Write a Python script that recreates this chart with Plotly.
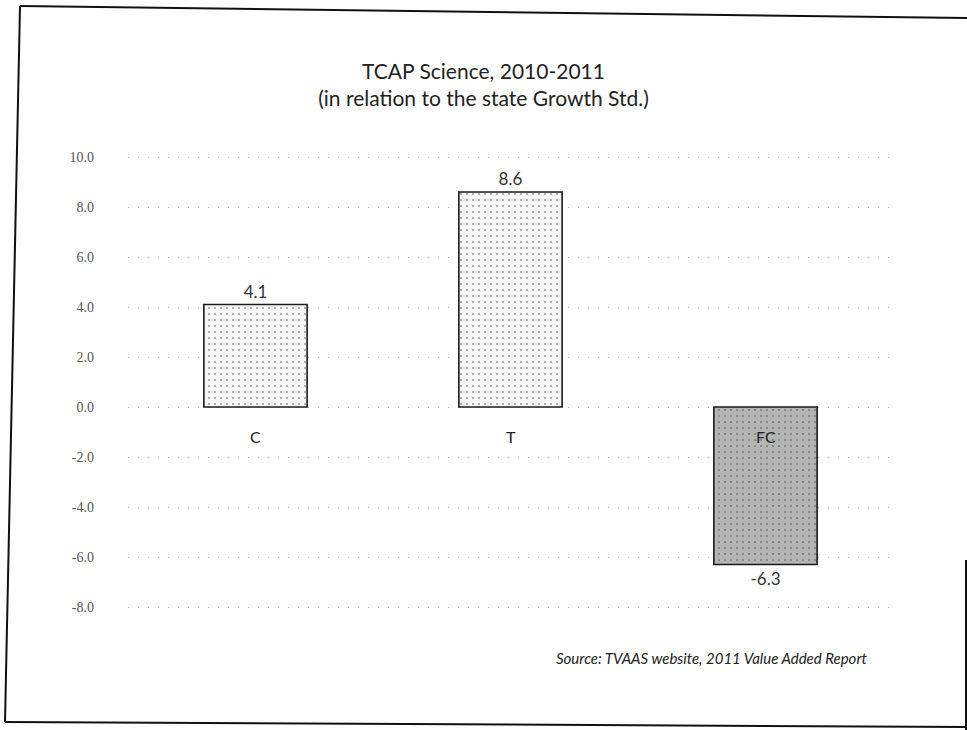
import plotly.graph_objects as go

categories = ["C", "T", "FC"]
values = [4.1, 8.6, -6.3]
tick_values = [10, 8, 6, 4, 2, 0, -2, -4, -6, -8]
tick_labels = ["10.0", "8.0", "6.0", "4.0", "2.0", "0.0", "-2.0", "-4.0", "-6.0", "-8.0"]
fill_colors = ["#f6f6f6", "#f6f6f6", "#b4b4b4"]
pattern_fg = ["#ababab", "#ababab", "#555555"]

W, H = 967, 730
L, R, T, B = 128, 74, 155, 121
pw, ph = W - L - R, H - T - B

def px(x):
    return (x - L) / pw

def py(y):
    return (H - B - y) / ph

fig = go.Figure()
fig.add_trace(go.Bar(
    x=categories, y=values, width=0.405,
    marker=dict(color=fill_colors, line=dict(color="#1a1a1a", width=1.6),
                pattern=dict(shape=".", fgcolor=pattern_fg, bgcolor=fill_colors,
                             size=6, solidity=0.1, fillmode="overlay")),
    text=[f"{v:.1f}" for v in values], textposition="outside",
    textfont=dict(family="Lato", size=17, color="#333"),
    cliponaxis=False, showlegend=False,
))

for c in categories:
    fig.add_annotation(x=c, y=0, yanchor="top", yshift=-18, showarrow=False,
                       text=c, font=dict(family="Lato", size=16, color="#222"))

fig.add_annotation(xref="paper", yref="paper", x=px(870), y=py(658), xanchor="right",
                   yanchor="middle", showarrow=False,
                   text="<i>Source: TVAAS website, 2011 Value Added Report</i>",
                   font=dict(family="Lato", size=15, color="#222"))

# scanned page frame
frame = [((20, 6), (967, 18)), ((20, 6), (5, 722)), ((5, 722), (967, 727)), ((966, 560), (966, 730))]
for (x0, y0), (x1, y1) in frame:
    fig.add_shape(type="line", xref="paper", yref="paper",
                  x0=px(x0), y0=py(y0), x1=px(x1), y1=py(y1),
                  line=dict(color="#111", width=2))

fig.update_layout(
    width=W, height=H,
    margin=dict(l=L, r=R, t=T, b=B),
    paper_bgcolor="white", plot_bgcolor="white",
    title=dict(text="TCAP Science, 2010-2011<br>(in relation to the state Growth Std.)",
               x=0.5, xref="container", y=1 - 79 / H, yref="container", yanchor="top",
               font=dict(family="Lato", size=21, color="#222")),
    xaxis=dict(showticklabels=False, showgrid=False, zeroline=False, showline=False,
               ticks=""),
    yaxis=dict(range=[-8.08, 10.08], tickvals=tick_values, ticktext=tick_labels,
               tickfont=dict(family="Liberation Serif", size=14, color="#555"),
               ticklabelstandoff=33, showgrid=True, gridcolor="#b5b5b5", gridwidth=1,
               griddash="1px,9px", zeroline=False, showline=False, ticks=""),
)

fig.write_html("out.html", config={"displayModeBar": False},
               post_script="document.body.style.margin='0';document.documentElement.style.overflow='hidden';")
